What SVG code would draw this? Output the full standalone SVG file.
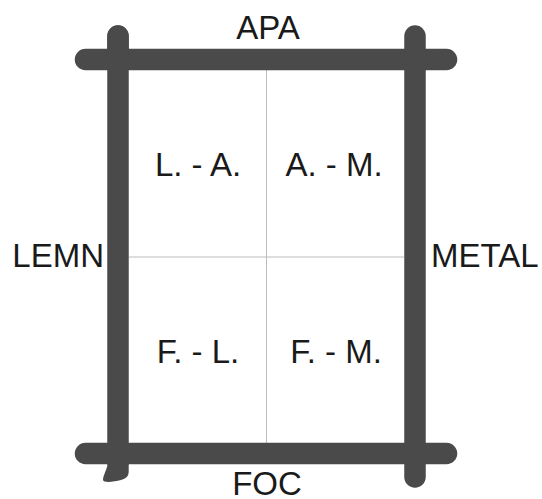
<svg xmlns="http://www.w3.org/2000/svg" width="542" height="499" viewBox="0 0 542 499">
<style>
.bar{stroke:#4a4a4a;stroke-width:21.5;stroke-linecap:round;fill:none}
.grid{stroke:#bdbdbd;stroke-width:1}
text{font-family:"Liberation Sans",Arial,sans-serif;font-size:33px;fill:#1a1a1a}
</style>
<rect width="542" height="499" fill="#fff"/>
<g id="grid">
<line class="grid" x1="266.5" y1="70" x2="266.5" y2="443"/>
<line class="grid" x1="129" y1="257" x2="404" y2="257" stroke="#d0d0d0"/>
</g>
<g id="frame">
<line class="bar" x1="85.5" y1="59.5" x2="446.5" y2="59.5"/>
<line class="bar" x1="85.5" y1="453.5" x2="446.5" y2="453.5"/>
<line class="bar" x1="118" y1="36" x2="118" y2="462" stroke-linecap="butt"/>
<line class="bar" x1="118" y1="36" x2="118" y2="50"/>
<line class="bar" x1="415" y1="36" x2="415" y2="477"/>
<path d="M107.3,455 L107.3,466 C106,471 103,476 103,480 C103,483 114,482 121,480 Q128.7,478 128.7,472 L128.7,455 Z" fill="#4a4a4a"/>
</g>
<g id="labels">
<text x="268" y="39" text-anchor="middle">APA</text>
<text x="267" y="495" text-anchor="middle">FOC</text>
<text x="104" y="267" text-anchor="end">LEMN</text>
<text x="431" y="267">METAL</text>
<text x="198" y="176" text-anchor="middle">L. - A.</text>
<text x="334" y="176" text-anchor="middle">A. - M.</text>
<text x="198" y="363" text-anchor="middle">F. - L.</text>
<text x="336" y="363" text-anchor="middle">F. - M.</text>
</g>
</svg>
